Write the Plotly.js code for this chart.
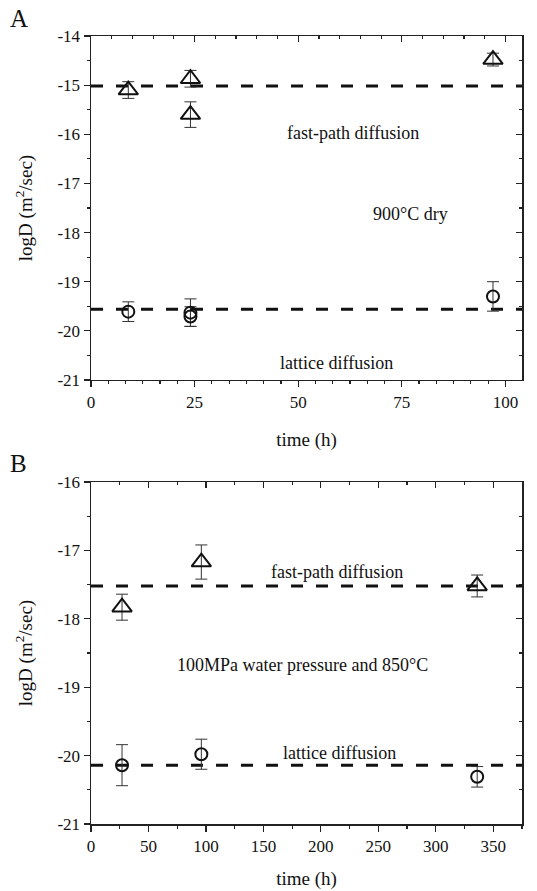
<!DOCTYPE html>
<html>
<head>
<meta charset="utf-8">
<script src="https://cdn.plot.ly/plotly-3.0.1.min.js"></script>
<style>html,body{margin:0;padding:0;background:#fff;}#chart{width:537px;height:891px;}</style>
</head>
<body>
<div id="chart"></div>
<script>
// ---- Panel A: 900°C dry ----
const aFastTime = [9, 24, 24, 97];
const aFastLogD = [-15.1, -14.87, -15.6, -14.48];
const aFastErr = [0.17, 0.17, 0.26, 0.13];
const aLatTime = [9, 24, 24, 97];
const aLatLogD = [-19.61, -19.63, -19.71, -19.3];
const aLatErr = [0.2, 0.28, 0.2, 0.3];
const aFastMean = -15.02;
const aLatMean = -19.56;

// ---- Panel B: 100MPa water pressure and 850°C ----
const bFastTime = [27, 96, 336];
const bFastLogD = [-17.83, -17.17, -17.52];
const bFastErr = [0.19, 0.25, 0.16];
const bLatTime = [27, 96, 336];
const bLatLogD = [-20.14, -19.98, -20.31];
const bLatErr = [0.3, 0.22, 0.15];
const bFastMean = -17.52;
const bLatMean = -20.14;

const aXRange = [0, 104];
const bXRange = [0, 375];
const aYTicks = [-14, -15, -16, -17, -18, -19, -20, -21];
const aYLabels = ['-14', '-15', '-16', '-17', '-18', '-19', '-20', '-21'];
const bYTicks = [-16, -17, -18, -19, -20, -21];
const bYLabels = ['-16', '-17', '-18', '-19', '-20', '-21'];
const aXTicks = [0, 25, 50, 75, 100];
const bXTicks = [0, 50, 100, 150, 200, 250, 300, 350];

const FONT = 'Liberation Serif, Times New Roman, serif';
const INK = '#111';

function pts(x, y, err, sym, xa, ya, size) {
  return {
    x: x, y: y, xaxis: xa, yaxis: ya, type: 'scatter', mode: 'markers',
    marker: {symbol: sym, size: size, color: 'rgba(255,255,255,0)', line: {color: INK, width: 2}},
    error_y: {type: 'data', array: err, visible: true, color: '#333', thickness: 1, width: 6},
    showlegend: false, hoverinfo: 'skip', cliponaxis: false
  };
}
function hline(range, v, xa, ya) {
  return {
    x: range, y: [v, v], xaxis: xa, yaxis: ya, type: 'scatter', mode: 'lines',
    line: {color: INK, width: 3, dash: '12px,13px'}, showlegend: false, hoverinfo: 'skip'
  };
}
function dummy(xa, ya, xr, yr) {
  return {x: [xr[0]], y: [yr[0]], xaxis: xa, yaxis: ya, type: 'scatter', mode: 'markers',
    marker: {opacity: 0}, showlegend: false, hoverinfo: 'skip'};
}

const data = [
  hline(aXRange, aFastMean, 'x', 'y'),
  hline(aXRange, aLatMean, 'x', 'y'),
  pts(aFastTime, aFastLogD, aFastErr, 'triangle-up', 'x', 'y', 17),
  pts(aLatTime, aLatLogD, aLatErr, 'circle', 'x', 'y', 12),
  hline(bXRange, bFastMean, 'x2', 'y2'),
  hline(bXRange, bLatMean, 'x2', 'y2'),
  pts(bFastTime, bFastLogD, bFastErr, 'triangle-up', 'x2', 'y2', 17),
  pts(bLatTime, bLatLogD, bLatErr, 'circle', 'x2', 'y2', 12),
  dummy('x3', 'y3', aXRange, [-21, -14]),
  dummy('x4', 'y4', bXRange, [-21, -16])
];

const tickFont = {family: FONT, size: 17, color: INK};
const titleFont = {family: FONT, size: 19, color: INK};
const annFont = {family: FONT, size: 18, color: INK};
const baseAx = {
  showgrid: false, zeroline: false, showline: true, linecolor: '#222', linewidth: 1.5,
  ticks: 'outside', ticklen: 6, tickwidth: 1.2, tickcolor: '#222', tickfont: tickFont, fixedrange: true
};
const overAx = {
  showgrid: false, zeroline: false, showline: true, linecolor: '#222', linewidth: 1.5,
  ticks: 'inside', ticklen: 6, tickwidth: 1.2, tickcolor: '#222', showticklabels: false, fixedrange: true
};
const minorOut = (d) => ({ticks: 'outside', ticklen: 3, tickwidth: 1.2, tickcolor: '#222', dtick: d, tick0: 0, showgrid: false});
const minorIn = (d) => ({ticks: 'inside', ticklen: 3, tickwidth: 1.2, tickcolor: '#222', dtick: d, tick0: 0, showgrid: false});

const aDom = [0.5635, 1];
const bDom = [0, 0.434];

const layout = {
  width: 537, height: 891,
  margin: {l: 91, r: 15, t: 36, b: 67},
  paper_bgcolor: '#fff', plot_bgcolor: '#fff',
  font: {family: FONT, color: INK},
  xaxis: Object.assign({}, baseAx, {
    domain: [0, 1], anchor: 'y', range: aXRange, tickvals: aXTicks,
    minor: minorOut(25 / 6),
    title: {text: 'time (h)', font: titleFont, standoff: 22}
  }),
  yaxis: Object.assign({}, baseAx, {
    domain: aDom, anchor: 'x', range: [-21, -14], tickvals: aYTicks, ticktext: aYLabels,
    minor: minorOut(0.5),
    title: {text: 'logD (m<sup>2</sup>/sec)', font: titleFont, standoff: 20}
  }),
  xaxis3: Object.assign({}, overAx, {
    overlaying: 'x', side: 'top', anchor: 'y3', range: aXRange, tickvals: aXTicks, minor: minorIn(5)
  }),
  yaxis3: Object.assign({}, overAx, {
    overlaying: 'y', side: 'right', anchor: 'x3', range: [-21, -14], tickvals: aYTicks, minor: minorIn(0.5)
  }),
  xaxis2: Object.assign({}, baseAx, {
    domain: [0, 1], anchor: 'y2', range: bXRange, tickvals: bXTicks,
    minor: minorOut(25),
    title: {text: 'time (h)', font: titleFont, standoff: 17}
  }),
  yaxis2: Object.assign({}, baseAx, {
    domain: bDom, anchor: 'x2', range: [-21, -16], tickvals: bYTicks, ticktext: bYLabels,
    minor: minorOut(0.5),
    title: {text: 'logD (m<sup>2</sup>/sec)', font: titleFont, standoff: 20}
  }),
  xaxis4: Object.assign({}, overAx, {
    overlaying: 'x2', side: 'top', anchor: 'y4', range: bXRange, tickvals: bXTicks, minor: minorIn(25)
  }),
  yaxis4: Object.assign({}, overAx, {
    overlaying: 'y2', side: 'right', anchor: 'x4', range: [-21, -16], tickvals: bYTicks, minor: minorIn(0.5)
  }),
  annotations: [
    {text: 'A', xref: 'paper', yref: 'paper', x: -0.193, y: 1.0, yshift: 18, xanchor: 'left', yanchor: 'middle', showarrow: false, font: {family: FONT, size: 25, color: INK}},
    {text: 'B', xref: 'paper', yref: 'paper', x: -0.193, y: bDom[1], yshift: 19, xanchor: 'left', yanchor: 'middle', showarrow: false, font: {family: FONT, size: 25, color: INK}},
    {text: 'fast-path diffusion', xref: 'x', yref: 'y', x: 63.2, y: -15.97, showarrow: false, font: annFont},
    {text: '900°C dry', xref: 'x', yref: 'y', x: 77.1, y: -17.62, showarrow: false, font: annFont},
    {text: 'lattice diffusion', xref: 'x', yref: 'y', x: 59.3, y: -20.65, showarrow: false, font: annFont},
    {text: 'fast-path diffusion', xref: 'x2', yref: 'y2', x: 214, y: -17.32, showarrow: false, font: annFont},
    {text: '100MPa water pressure and 850°C', xref: 'x2', yref: 'y2', x: 183.6, y: -18.68, showarrow: false, font: annFont},
    {text: 'lattice diffusion', xref: 'x2', yref: 'y2', x: 216, y: -19.96, showarrow: false, font: annFont}
  ]
};

Plotly.newPlot('chart', data, layout, {staticPlot: true, displayModeBar: false});
</script>
</body>
</html>
